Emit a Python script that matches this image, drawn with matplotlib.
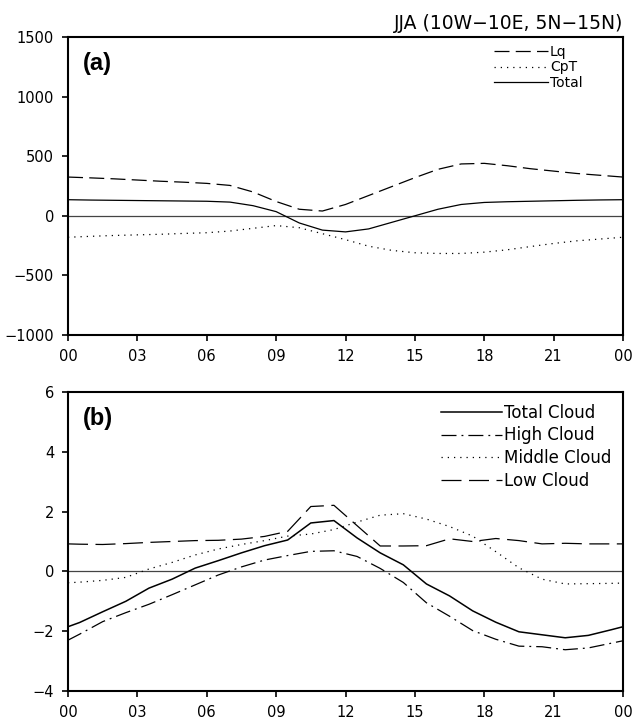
import matplotlib
matplotlib.use("Agg")
import matplotlib.pyplot as plt
import numpy as np

# (a) hourly energy terms
hours_a = list(range(25))
lq = [325, 318, 310, 300, 290, 282, 272, 255, 200, 120, 55, 40, 95, 170, 245,
      320, 390, 435, 440, 420, 395, 375, 355, 340, 325]
cpt = [-180, -172, -165, -160, -155, -148, -142, -128, -105, -82, -100, -150, -200,
       -255, -290, -310, -316, -316, -305, -285, -258, -232, -210, -195, -180]
total = [135, 132, 130, 128, 126, 124, 122, 115, 85, 35, -60, -120, -135, -110,
         -55, 0, 55, 95, 112, 118, 122, 126, 130, 133, 135]

# (b) cloud anomalies at half hours
hours_b = [0] + [h + 0.5 for h in range(24)] + [24]
total_cloud = [-1.85, -1.71, -1.35, -1.0, -0.56, -0.26, 0.11, 0.36, 0.62, 0.86, 1.05,
               1.62, 1.70, 1.12, 0.62, 0.22, -0.42, -0.82, -1.32, -1.70, -2.02,
               -2.12, -2.22, -2.14, -1.95, -1.85]
high_cloud = [-2.3, -2.1, -1.68, -1.38, -1.1, -0.78, -0.45, -0.12, 0.15, 0.38, 0.53,
              0.67, 0.69, 0.5, 0.1, -0.37, -1.05, -1.5, -1.98, -2.27, -2.5, -2.52,
              -2.62, -2.56, -2.4, -2.32]
middle_cloud = [-0.38, -0.36, -0.3, -0.2, 0.08, 0.3, 0.55, 0.75, 0.9, 1.03, 1.18,
                1.25, 1.4, 1.65, 1.88, 1.93, 1.75, 1.5, 1.18, 0.66, 0.12, -0.26,
                -0.42, -0.41, -0.4, -0.39]
low_cloud = [0.92, 0.91, 0.9, 0.93, 0.97, 1.0, 1.03, 1.04, 1.08, 1.17, 1.34, 2.17,
             2.21, 1.53, 0.85, 0.85, 0.86, 1.09, 1.0, 1.1, 1.03, 0.92, 0.94, 0.92,
             0.92, 0.92]

xticks = list(range(0, 25, 3))
xlabels = ["00", "03", "06", "09", "12", "15", "18", "21", "00"]

plt.rcParams['font.family'] = ['DejaVu Sans']
fig = plt.figure(figsize=(6.33, 7.2), dpi=100)
ax1 = fig.add_axes([68/633, 1-335/720, 555/633, 298/720])
ax2 = fig.add_axes([68/633, 1-691/720, 555/633, 299/720])

def style(ax):
    ax.set_xlim(0, 24)
    ax.set_xticks(xticks)
    ax.set_xticklabels(xlabels)
    ax.tick_params(direction='out', length=4, width=1.2, labelsize=10.5, pad=6)
    ax.tick_params(right=False, top=False)
    for s in ax.spines.values():
        s.set_linewidth(1.5)
    ax.axhline(0, color='#444444', lw=0.9, zorder=1)

# panel (a)
ax1.plot(hours_a, lq, color='black', lw=0.9, dashes=(12, 5), label='Lq')
ax1.plot(hours_a, cpt, color='black', lw=0.9, dashes=(1, 4), label='CpT')
ax1.plot(hours_a, total, color='black', lw=0.9, label='Total')
style(ax1)
ax1.set_ylim(-1000, 1500)
ax1.set_yticks([-1000, -500, 0, 500, 1000, 1500])
ax1.text(0.027, 0.95, '(a)', transform=ax1.transAxes, fontsize=17,
         fontweight='bold', va='top', family='Liberation Sans')
ax1.set_title('JJA (10W\u221210E, 5N\u221215N)', loc='right', fontsize=13.5, pad=6)
ax1.legend(loc='upper right', bbox_to_anchor=(0.942, 1.0), frameon=False,
           fontsize=10, handlelength=3.9, handletextpad=0.1, labelspacing=0.08,
           borderaxespad=0.2)

# panel (b)
ax2.plot(hours_b, total_cloud, color='black', lw=1.1, label='Total Cloud')
ax2.plot(hours_b, high_cloud, color='black', lw=0.9, dashes=(12, 4, 1.5, 4),
         label='High Cloud')
ax2.plot(hours_b, middle_cloud, color='black', lw=0.9, dashes=(1, 4),
         label='Middle Cloud')
ax2.plot(hours_b, low_cloud, color='black', lw=0.9, dashes=(16, 6),
         label='Low Cloud')
style(ax2)
ax2.set_ylim(-4, 6)
ax2.set_yticks([-4, -2, 0, 2, 4, 6])
ax2.text(0.027, 0.95, '(b)', transform=ax2.transAxes, fontsize=17,
         fontweight='bold', va='top', family='Liberation Sans')
ax2.legend(loc='upper right', frameon=False, fontsize=12,
           handlelength=3.7, handletextpad=0.1, labelspacing=0.28,
           borderaxespad=0.3)

fig.savefig('out.png', dpi=100)
